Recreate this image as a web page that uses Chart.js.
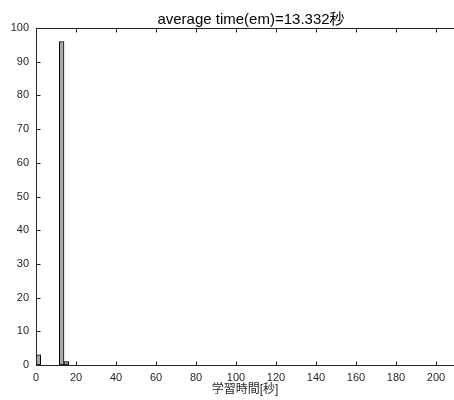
<!DOCTYPE html>
<html>
<head>
<meta charset="utf-8">
<script src="https://cdn.jsdelivr.net/npm/chart.js@4/dist/chart.umd.min.js"></script>
<style>
  html, body { margin: 0; padding: 0; background: #ffffff; }
  #wrap { width: 454px; height: 400px; }
</style>
</head>
<body>
<div id="wrap"><canvas id="c" width="454" height="400"></canvas></div>
<script>
// Histogram of learning times (seconds)
const binCenters = [1.167, 3.5, 5.833, 8.167, 10.5, 12.833, 15.167];
const counts = [3, 0, 0, 0, 0, 96, 1];
const xTickValues = [0, 20, 40, 60, 80, 100, 120, 140, 160, 180, 200];
const yTickValues = [0, 10, 20, 30, 40, 50, 60, 70, 80, 90, 100];
const titleText = 'average time(em)=13.332秒';
const xAxisTitle = '学習時間[秒]';

const FONT = "'Liberation Sans', 'Noto Sans CJK JP', sans-serif";
const INK = '#262626';

// Box-style axes with inward tick marks and a title above the plot
const matlabAxes = {
  id: 'matlabAxes',
  afterDatasetsDraw(chart) {
    const { ctx, chartArea: a, scales: { x, y } } = chart;
    const L = Math.round(a.left) + 0.5;
    const T = Math.round(a.top) + 0.5;
    const B = Math.round(a.bottom) + 0.5;
    const R = a.right + 2;
    const tl = 4;
    ctx.save();
    ctx.strokeStyle = INK;
    ctx.lineWidth = 1;
    ctx.beginPath();
    ctx.moveTo(L, T); ctx.lineTo(R, T);
    ctx.moveTo(L, T); ctx.lineTo(L, B);
    ctx.moveTo(L, B); ctx.lineTo(R, B);
    xTickValues.forEach(v => {
      const px = Math.round(x.getPixelForValue(v)) + 0.5;
      ctx.moveTo(px, B); ctx.lineTo(px, B - tl);
      ctx.moveTo(px, T); ctx.lineTo(px, T + tl);
    });
    yTickValues.forEach(v => {
      const py = Math.round(y.getPixelForValue(v)) + 0.5;
      ctx.moveTo(L, py); ctx.lineTo(L + tl, py);
    });
    ctx.stroke();
    ctx.restore();
  },
  afterDraw(chart) {
    const { ctx } = chart;
    ctx.save();
    ctx.fillStyle = '#000000';
    ctx.font = '15px ' + FONT;
    ctx.textAlign = 'center';
    ctx.textBaseline = 'alphabetic';
    ctx.fillText(titleText, 251, 24);
    ctx.restore();
  }
};

new Chart(document.getElementById('c'), {
  type: 'bar',
  data: {
    datasets: [{
      data: binCenters.map((c, i) => ({ x: c, y: counts[i] })),
      backgroundColor: '#a9a9a9',
      borderColor: '#000000',
      borderWidth: 1,
      borderSkipped: false,
      categoryPercentage: 1,
      barPercentage: 1
    }]
  },
  options: {
    responsive: false,
    animation: false,
    devicePixelRatio: 1,
    layout: { padding: { top: 28, right: 0, left: 0, bottom: 0 } },
    plugins: { legend: { display: false }, tooltip: { enabled: false }, title: { display: false } },
    scales: {
      x: {
        type: 'linear',
        offset: false,
        min: 0,
        max: 209,
        afterBuildTicks: s => { s.ticks = xTickValues.map(v => ({ value: v })); },
        afterFit: s => { s.height = 35; },
        grid: { display: false, drawTicks: false },
        border: { display: false },
        ticks: { color: INK, font: { family: FONT, size: 11 }, padding: 6, maxRotation: 0, autoSkip: false },
        title: { display: true, text: xAxisTitle, color: INK, font: { family: FONT, size: 12 }, padding: { top: 0, bottom: 3 } }
      },
      y: {
        min: 0,
        max: 100,
        afterBuildTicks: s => { s.ticks = yTickValues.map(v => ({ value: v })); },
        afterFit: s => { s.width = 36; },
        grid: { display: false, drawTicks: false },
        border: { display: false },
        ticks: { color: INK, font: { family: FONT, size: 11 }, padding: 7, autoSkip: false }
      }
    }
  },
  plugins: [matlabAxes]
});
</script>
</body>
</html>
